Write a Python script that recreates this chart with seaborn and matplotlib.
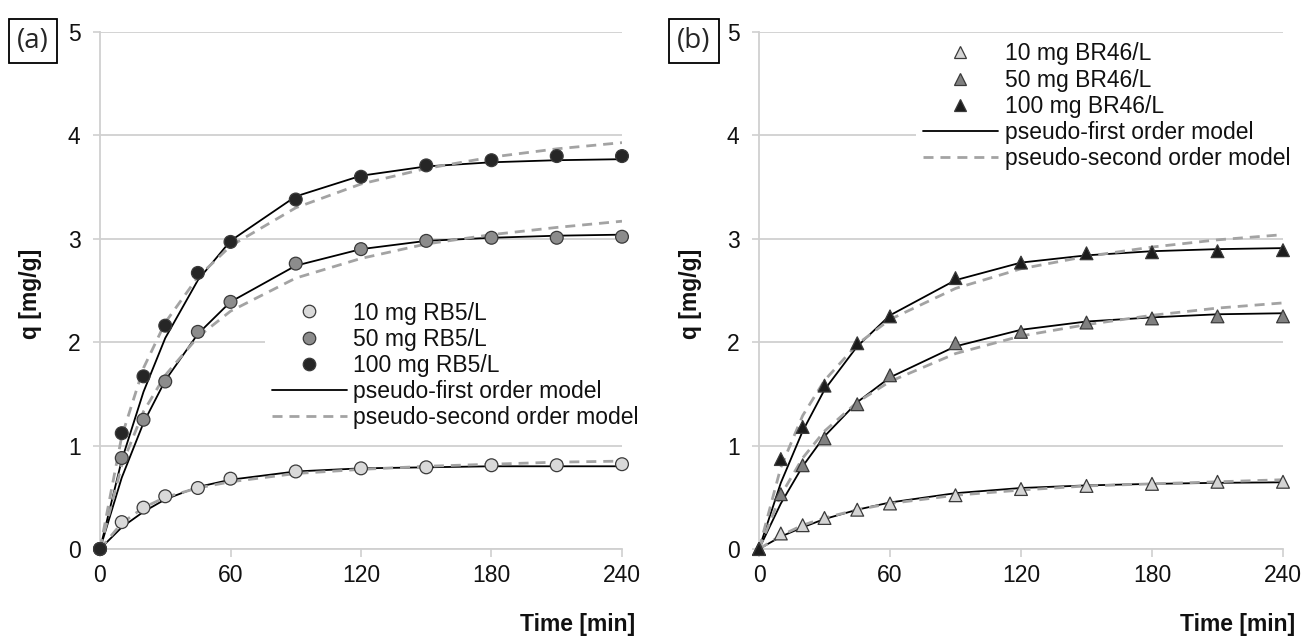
import matplotlib
matplotlib.use("Agg")
import matplotlib.pyplot as plt
from matplotlib.lines import Line2D
import pandas as pd
import seaborn as sns

# sampling times (min)
time_min = [0, 10, 20, 30, 45, 60, 90, 120, 150, 180, 210, 240]

# (a) RB5 - measured
q_rb5_10 = [0, 0.26, 0.40, 0.51, 0.59, 0.68, 0.75, 0.78, 0.79, 0.81, 0.81, 0.82]
q_rb5_50 = [0, 0.88, 1.25, 1.62, 2.10, 2.39, 2.76, 2.90, 2.98, 3.01, 3.01, 3.02]
q_rb5_100 = [0, 1.12, 1.67, 2.16, 2.67, 2.97, 3.38, 3.60, 3.71, 3.76, 3.80, 3.80]
# (a) RB5 - pseudo-first order model
pfo_rb5_10 = [0, 0.21, 0.36, 0.48, 0.60, 0.67, 0.75, 0.78, 0.79, 0.80, 0.80, 0.80]
pfo_rb5_50 = [0, 0.69, 1.22, 1.63, 2.08, 2.39, 2.74, 2.90, 2.98, 3.01, 3.03, 3.04]
pfo_rb5_100 = [0, 0.86, 1.52, 2.04, 2.60, 2.98, 3.41, 3.61, 3.70, 3.74, 3.76, 3.77]
# (a) RB5 - pseudo-second order model
pso_rb5_10 = [0, 0.25, 0.40, 0.50, 0.59, 0.65, 0.73, 0.77, 0.80, 0.82, 0.84, 0.85]
pso_rb5_50 = [0, 0.81, 1.33, 1.68, 2.05, 2.30, 2.62, 2.81, 2.95, 3.04, 3.11, 3.17]
pso_rb5_100 = [0, 1.09, 1.75, 2.19, 2.63, 2.93, 3.30, 3.53, 3.68, 3.79, 3.87, 3.93]

# (b) BR46 - measured
q_br46_10 = [0, 0.15, 0.23, 0.30, 0.38, 0.44, 0.52, 0.58, 0.61, 0.63, 0.65, 0.65]
q_br46_50 = [0, 0.53, 0.81, 1.07, 1.40, 1.68, 1.99, 2.10, 2.19, 2.23, 2.25, 2.25]
q_br46_100 = [0, 0.87, 1.18, 1.58, 1.99, 2.25, 2.62, 2.77, 2.86, 2.87, 2.88, 2.89]
# (b) BR46 - pseudo-first order model
pfo_br46_10 = [0, 0.12, 0.21, 0.29, 0.38, 0.45, 0.54, 0.59, 0.615, 0.63, 0.64, 0.645]
pfo_br46_50 = [0, 0.44, 0.80, 1.09, 1.42, 1.66, 1.96, 2.12, 2.20, 2.24, 2.27, 2.28]
pfo_br46_100 = [0, 0.64, 1.14, 1.54, 1.96, 2.26, 2.60, 2.77, 2.84, 2.88, 2.90, 2.91]
# (b) BR46 - pseudo-second order model
pso_br46_10 = [0, 0.13, 0.23, 0.30, 0.38, 0.44, 0.52, 0.57, 0.61, 0.63, 0.65, 0.67]
pso_br46_50 = [0, 0.52, 0.88, 1.14, 1.42, 1.62, 1.89, 2.06, 2.17, 2.26, 2.33, 2.38]
pso_br46_100 = [0, 0.79, 1.29, 1.63, 1.98, 2.22, 2.52, 2.71, 2.83, 2.92, 2.99, 3.04]

labels_rb5 = ["10 mg RB5/L", "50 mg RB5/L", "100 mg RB5/L"]
labels_br46 = ["10 mg BR46/L", "50 mg BR46/L", "100 mg BR46/L"]
model_labels = ["pseudo-first order model", "pseudo-second order model"]
x_ticks = [0, 60, 120, 180, 240]
y_ticks = [0, 1, 2, 3, 4, 5]

sns.set_theme(style="white")
plt.rcParams["font.family"] = ["Liberation Sans", "DejaVu Sans"]

FS = 16.5
GRID = "#d0d0d0"
EDGE = "#3a3a3a"
DASH = (0, (3.6, 2.5))


def draw_panel(ax, labels, measured, first, second, marker, colors, legend_xy):
    rows = []
    for lab, q in zip(labels, measured):
        for t, v in zip(time_min, q):
            rows.append({"t": t, "q": v, "series": lab})
    df = pd.DataFrame(rows)

    for vals in first:
        sns.lineplot(x=time_min, y=vals, ax=ax, color="black", lw=1.3,
                     estimator=None, sort=False, zorder=3)
    for vals in second:
        sns.lineplot(x=time_min, y=vals, ax=ax, color="#a3a3a3", lw=2,
                     linestyle=DASH, estimator=None, sort=False, zorder=3)
    sns.scatterplot(data=df, x="t", y="q", hue="series",
                    palette=dict(zip(labels, colors)), marker=marker, s=85,
                    edgecolor=EDGE, linewidth=0.9, legend=False, ax=ax,
                    zorder=4, clip_on=False)

    ax.set_xlim(0, 240)
    ax.set_ylim(0, 5)
    ax.set_xticks(x_ticks)
    ax.set_yticks(y_ticks)
    ax.set_xlabel("")
    ax.set_ylabel("")
    ax.yaxis.grid(True, color=GRID, lw=1.3)
    ax.xaxis.grid(False)
    ax.set_axisbelow(True)
    for side in ["top", "right"]:
        ax.spines[side].set_visible(False)
    for side in ["left", "bottom"]:
        ax.spines[side].set_color(GRID)
        ax.spines[side].set_linewidth(1.3)
    ax.tick_params(axis="x", length=5.8, width=1.2, color=GRID, pad=5,
                   labelsize=FS, labelcolor="#111111", bottom=True)
    ax.tick_params(axis="y", length=5, width=1.2, color=GRID, pad=9,
                   labelsize=FS, labelcolor="#111111", left=True)

    handles = [Line2D([], [], ls="none", marker=marker, ms=9, mfc=c,
                      mec=EDGE, mew=0.9) for c in colors]
    handles.append(Line2D([], [], color="black", lw=1.3))
    handles.append(Line2D([], [], color="#a3a3a3", lw=2, linestyle=DASH))
    leg = ax.legend(handles, labels + model_labels, loc="upper left",
                    bbox_to_anchor=legend_xy, frameon=True, fancybox=False,
                    facecolor="white", edgecolor="none", framealpha=1,
                    fontsize=FS, handlelength=3.26, handletextpad=0.3,
                    labelspacing=0.14, borderpad=0.3, borderaxespad=0)
    for txt in leg.get_texts():
        txt.set_color("#111111")


fig = plt.figure(figsize=(13.03, 6.36), dpi=100)
ax_a = fig.add_axes([100 / 1303, 1 - 549 / 636, 522 / 1303, 517 / 636])
ax_b = fig.add_axes([759 / 1303, 1 - 549 / 636, 524 / 1303, 517 / 636])

draw_panel(ax_a, labels_rb5, [q_rb5_10, q_rb5_50, q_rb5_100],
           [pfo_rb5_10, pfo_rb5_50, pfo_rb5_100],
           [pso_rb5_10, pso_rb5_50, pso_rb5_100],
           "o", ["#d9d9d9", "#8c8c8c", "#262626"], (0.316, 0.492))
draw_panel(ax_b, labels_br46, [q_br46_10, q_br46_50, q_br46_100],
           [pfo_br46_10, pfo_br46_50, pfo_br46_100],
           [pso_br46_10, pso_br46_50, pso_br46_100],
           "^", ["#d4d4d4", "#808080", "#1c1c1c"], (0.30, 0.993))

for x0 in [31, 690]:
    fig.text(x0 / 1303, 1 - 294 / 636, "q [mg/g]", rotation=90, ha="center",
             va="center", fontsize=FS, fontweight="bold", color="#111111")
for x1 in [635, 1295]:
    fig.text(x1 / 1303, 1 - 624 / 636, "Time [min]", ha="right", va="center",
             fontsize=FS, fontweight="bold", color="#111111")
for xc, lab in [(33, "(a)"), (694, "(b)")]:
    fig.text(xc / 1303, 1 - 41 / 636, lab, ha="center", va="center",
             fontsize=20, family=["Open Sans", "DejaVu Sans"],
             bbox=dict(boxstyle="square,pad=0.3", fc="white", ec="black",
                       lw=1.3))

fig.savefig("out.png", dpi=100)
